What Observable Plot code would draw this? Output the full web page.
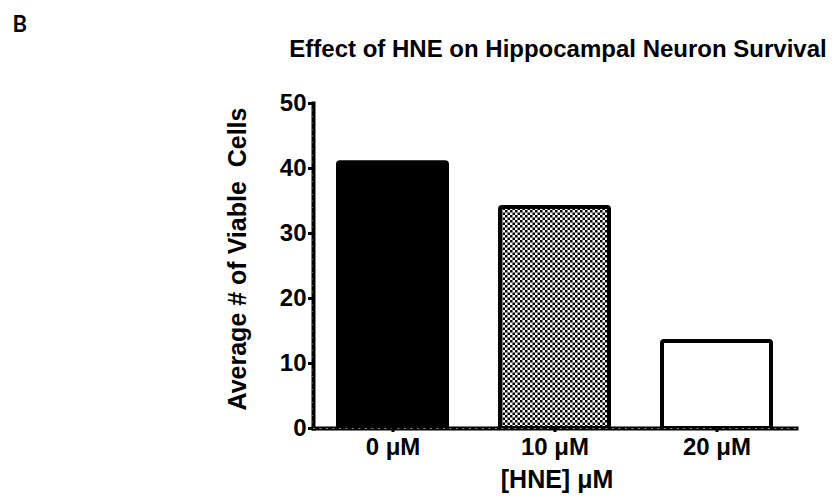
<!DOCTYPE html>
<html>
<head>
<meta charset="utf-8">
<script src="https://cdn.jsdelivr.net/npm/d3@7"></script>
<script src="https://cdn.jsdelivr.net/npm/@observablehq/plot@0.6"></script>
<style>
  html, body { margin: 0; padding: 0; background: #fff; }
  #chart { width: 838px; height: 498px; }
</style>
</head>
<body>
<div id="chart"></div>
<script>
// Data
const categories = ["0 \u03bcM", "10 \u03bcM", "20 \u03bcM"];
const values = [40.9, 34.0, 13.4];
const fills = ["black", "url(#checker)", "white"];
const yTicks = [0, 10, 20, 30, 40, 50];
const yMinorTicks = d3.range(0, 51);

const title = "Effect of HNE on Hippocampal Neuron Survival";
const panelLetter = "B";
const yLabel = "Average # of Viable\u00a0 Cells";
const xLabel = "[HNE] \u03bcM";

const data = categories.map((c, i) => ({cat: c, value: values[i], fill: fills[i]}));

const defs = () => {
  const d = d3.create("svg:defs");
  const p = d.append("pattern")
    .attr("id", "checker")
    .attr("patternUnits", "userSpaceOnUse")
    .attr("width", 5).attr("height", 5);
  p.append("rect").attr("width", 5).attr("height", 5).attr("fill", "white");
  p.append("rect").attr("width", 2.5).attr("height", 2.5).attr("fill", "black");
  p.append("rect").attr("x", 2.5).attr("y", 2.5).attr("width", 2.5).attr("height", 2.5).attr("fill", "black");
  return d.node();
};

const font = "Liberation Sans, Arial, sans-serif";

const chart = Plot.plot({
  width: 838,
  height: 498,
  marginLeft: 313,
  marginRight: 42,
  marginTop: 103,
  marginBottom: 70,
  style: {fontFamily: font, fontWeight: "bold", fontSize: "24px", background: "white", color: "black"},
  x: {domain: categories, paddingInner: 0.327, paddingOuter: 0.154},
  y: {domain: [0, 50]},
  marks: [
    defs,
    Plot.barY(data, {
      x: "cat", y: "value", fill: d => d.fill,
      stroke: "black", strokeWidth: 4, rx: 2
    }),
    // axis lines
    Plot.frame({anchor: "left", stroke: "black", strokeWidth: 4}),
    Plot.frame({anchor: "bottom", stroke: "black", strokeWidth: 4}),
    // minor ruler marks on the axis lines
    Plot.axisY({ticks: yMinorTicks, tickSize: 2, tickFormat: () => "", stroke: "#8a8a8a", strokeWidth: 0.8, label: null}),
    Plot.frame({anchor: "bottom", stroke: "#8a8a8a", strokeWidth: 1.2, strokeDasharray: "0.8 5.7"}),
    // major ticks
    Plot.axisY({
      ticks: yTicks, tickSize: 5, tickPadding: 2, strokeWidth: 3,
      fontSize: 24, fontWeight: "bold", fontFamily: font, label: null
    }),
    Plot.axisX({
      tickSize: 4, tickPadding: 5, strokeWidth: 3,
      fontSize: 24, fontWeight: "bold", fontFamily: font, label: null
    }),
    // axis labels
    Plot.text([yLabel], {
      frameAnchor: "left", textAnchor: "middle", rotate: -90, dx: -76, dy: -7,
      fontSize: 25, fontWeight: "bold", fontFamily: font, fill: "black"
    }),
    Plot.text([xLabel], {
      frameAnchor: "bottom", dx: 2, dy: 59, lineAnchor: "bottom",
      fontSize: 25, fontWeight: "bold", fontFamily: font, fill: "black"
    }),
    // title and panel letter
    Plot.text([title], {
      frameAnchor: "top", dx: 3, dy: -47, lineAnchor: "bottom",
      fontSize: 24, fontWeight: "bold", fontFamily: font, fill: "black"
    }),
    Plot.text([panelLetter], {
      frameAnchor: "top-left", dx: -301, dy: -72, lineAnchor: "bottom", textAnchor: "start",
      fontSize: 22, fontWeight: "bold", fontFamily: "Lato", fill: "black"
    })
  ]
});

document.getElementById("chart").appendChild(chart);
</script>
</body>
</html>
